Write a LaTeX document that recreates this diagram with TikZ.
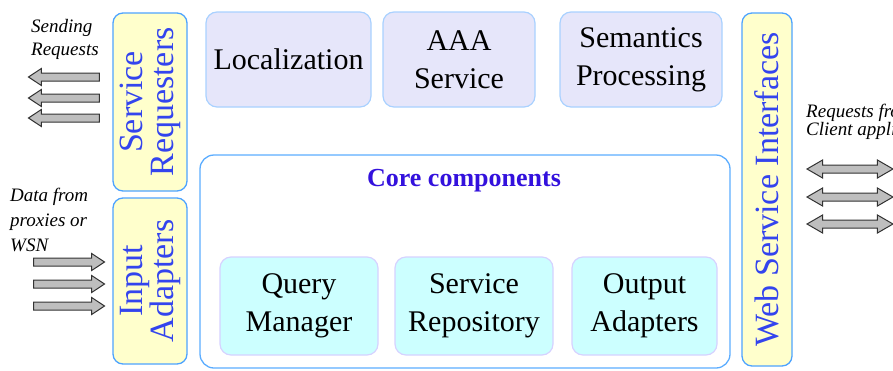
\documentclass[tikz,border=0pt]{standalone}
\usepackage{fontspec}
\setmainfont{Liberation Serif}
\usetikzlibrary{shapes.arrows}

\definecolor{sideline}{HTML}{4DA3FF}
\definecolor{sidefill}{HTML}{FFFFCC}
\definecolor{sidetext}{HTML}{3344EE}
\definecolor{lavfill}{HTML}{E6E6FA}
\definecolor{lavline}{HTML}{A9D1FF}
\definecolor{cyanfill}{HTML}{CCFFFF}
\definecolor{cyanline}{HTML}{D6D2FF}
\definecolor{coreline}{HTML}{5CADFF}
\definecolor{coretext}{HTML}{3311DD}
\definecolor{arrowfill}{HTML}{BEBEBE}
\definecolor{arrowline}{HTML}{333333}

\begin{document}
\begin{tikzpicture}[x=1pt,y=-1pt,
  sidebox/.style={draw=sideline, line width=1.3pt, fill=sidefill,
    rounded corners=10pt, rotate=90, text=sidetext, inner sep=0pt,
    font=\rmfamily\fontsize{34}{31}\selectfont, align=center},
  topbox/.style={draw=lavline, line width=1.2pt, fill=lavfill,
    rounded corners=11pt, inner sep=0pt, minimum height=95pt,
    font=\rmfamily\fontsize{30}{38}\selectfont, align=center},
  innerbox/.style={draw=cyanline, line width=1.2pt, fill=cyanfill,
    rounded corners=11pt, inner sep=0pt, minimum height=98pt,
    font=\rmfamily\fontsize{30}{38}\selectfont, align=center},
  sidelabel/.style={font=\fontsize{19}{23}\selectfont\itshape, align=left,
    inner sep=0pt, anchor=north west},
  leftarrow/.style={shape=single arrow, shape border rotate=180,
    draw=arrowline, line width=1pt, fill=arrowfill, inner xsep=0pt,
    inner ysep=3.5pt, single arrow head extend=4.5pt,
    single arrow tip angle=67, minimum height=71pt},
  rightarrow/.style={leftarrow, shape border rotate=0},
  botharrow/.style={shape=double arrow, draw=arrowline, line width=1pt,
    fill=arrowfill, inner xsep=0pt, inner ysep=3.5pt,
    double arrow head extend=5pt, double arrow tip angle=60,
    minimum height=86pt}
]
\useasboundingbox (0,0) rectangle (893,370);
\clip (0,0) rectangle (893,370);

% side columns
\node[sidebox, minimum width=178pt, minimum height=74pt] (sreq) at (150,102)
  {Service\\Requesters};
\node[sidebox, minimum width=166pt, minimum height=74pt] (inadp) at (150,281)
  {Input\\Adapters};
\node[sidebox, minimum width=353pt, minimum height=50pt] (wsi) at (767,189.5)
  {Web Service Interfaces};

% upper services
\node[topbox, minimum width=165pt] (loc) at (288.5,59.5) {Localization};
\node[topbox, minimum width=152pt] (aaa) at (459,59.5) {AAA\\Service};
\node[topbox, minimum width=162pt] (sem) at (641,59.5) {Semantics\\Processing};

% core components container
\node[draw=coreline, line width=1.3pt, fill=white, rounded corners=14pt,
  minimum width=530pt, minimum height=213pt, inner sep=0pt] (core) at (465,261.5) {};
\node[text=coretext, font=\fontsize{26}{30}\selectfont\bfseries, inner sep=0pt]
  (coretitle) at (464,181) {Core components};
\node[innerbox, minimum width=158pt] (qm) at (299,306) {Query\\Manager};
\node[innerbox, minimum width=158pt] (srep) at (474,306) {Service\\Repository};
\node[innerbox, minimum width=145pt] (oadp) at (644.5,306) {Output\\Adapters};

% outgoing requests
\node[sidelabel] (sendlbl) at (31,19) {Sending\\Requests};
\node[leftarrow] (s1) at (67,77) {};
\node[leftarrow] (s2) at (67,98) {};
\node[leftarrow] (s3) at (67,118) {};

% incoming data
\node[sidelabel, font=\fontsize{19}{25}\selectfont\itshape] (datalbl) at (10,188)
  {Data from\\proxies or\\WSN};
\node[rightarrow] (d1) at (66,262) {};
\node[rightarrow] (d2) at (66,284) {};
\node[rightarrow] (d3) at (66,306) {};

% client side
\node[sidelabel, font=\fontsize{19}{16.5}\selectfont\itshape] (reqlbl) at (806,104)
  {Requests from\\Client applications};
\node[botharrow] (c1) at (850,169) {};
\node[botharrow] (c2) at (850,197) {};
\node[botharrow] (c3) at (850,224) {};
\end{tikzpicture}
\end{document}
